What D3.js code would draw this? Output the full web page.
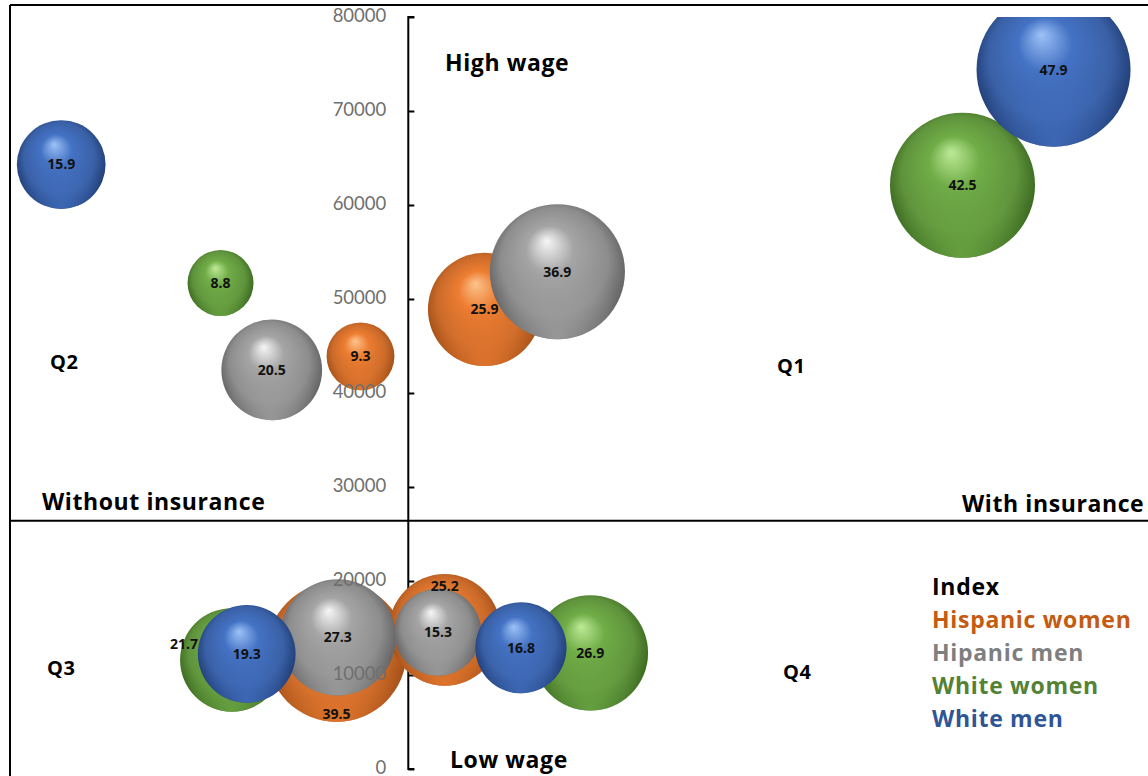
<!DOCTYPE html>
<html>
<head>
<meta charset="utf-8">
<script src="https://cdn.jsdelivr.net/npm/d3@7"></script>
<style>
  body { margin: 0; background: #fff; }
  svg { display: block; font-family: Lato, "Open Sans", sans-serif; }
  .bold { font-family: "Open Sans", Lato, sans-serif; font-weight: bold; }
</style>
</head>
<body>
<div id="chart"></div>
<script>
// series names (legend order = drawing order)
var seriesNames = ["Hispanic women", "Hipanic men", "White women", "White men"];

// x = insurance position (negative = without insurance), y = wage, size = bubble index
var hispWomenX = [-4.2, 6.7, -6.3, 3.2];
var hispWomenY = [43900, 48900, 12450, 14800];
var hispWomenSize = [9.3, 25.9, 39.5, 25.2];

var hispMenX = [-12.0, 13.1, -6.2, 2.6];
var hispMenY = [42450, 52900, 14000, 14550];
var hispMenSize = [20.5, 36.9, 27.3, 15.3];

var whiteWomenX = [-16.5, 48.7, -15.5, 16.0];
var whiteWomenY = [51700, 62100, 11600, 12350];
var whiteWomenSize = [8.8, 42.5, 21.7, 26.9];

var whiteMenX = [-30.5, 56.7, -14.2, 9.9];
var whiteMenY = [64300, 74400, 12250, 12900];
var whiteMenSize = [15.9, 47.9, 19.3, 16.8];

var yTicks = [0, 10000, 20000, 30000, 40000, 50000, 60000, 70000, 80000];
var wageSplit = 26400; // horizontal divider between high / low wage

var width = 1148;
var height = 776;

var colors = [
  { base: "#ed7d31", light: "#fcc48e", dark: "#9a4a14", text: "#c55a11" },
  { base: "#a5a5a5", light: "#f6f6f6", dark: "#5a5a5a", text: "#7f7f7f" },
  { base: "#70ad47", light: "#bdea97", dark: "#33601a", text: "#548235" },
  { base: "#4472c4", light: "#9cc2f7", dark: "#1c366c", text: "#2f5597" }
];

// labels moved off the centre where the bubble is hidden
var labelSide = { "39.5": "below", "25.2": "above", "21.7": "left" };

var xs = [hispWomenX, hispMenX, whiteWomenX, whiteMenX];
var ys = [hispWomenY, hispMenY, whiteWomenY, whiteMenY];
var sizes = [hispWomenSize, hispMenSize, whiteWomenSize, whiteMenSize];

var points = [];
seriesNames.forEach(function (name, i) {
  xs[i].forEach(function (x, j) {
    points.push({ series: i, x: x, y: ys[i][j], size: sizes[i][j] });
  });
});

var svg = d3.select("#chart").append("svg")
  .attr("width", width)
  .attr("height", height);

var defs = svg.append("defs");

// sphere-looking gradients
colors.forEach(function (c, i) {
  var g = defs.append("radialGradient")
    .attr("id", "ball" + i)
    .attr("cx", "50%").attr("cy", "48%").attr("r", "55%")
    .attr("fx", "42%").attr("fy", "27%");
  g.append("stop").attr("offset", "0%").attr("stop-color", c.light);
  g.append("stop").attr("offset", "32%").attr("stop-color", c.base);
  g.append("stop").attr("offset", "72%").attr("stop-color", d3.color(c.base).darker(0.45));
  g.append("stop").attr("offset", "100%").attr("stop-color", c.dark);

  var s = defs.append("radialGradient")
    .attr("id", "shine" + i)
    .attr("cx", "50%").attr("cy", "100%").attr("r", "55%");
  s.append("stop").attr("offset", "0%").attr("stop-color", c.base).attr("stop-opacity", 0.8);
  s.append("stop").attr("offset", "100%").attr("stop-color", c.base).attr("stop-opacity", 0);
});

defs.append("clipPath").attr("id", "plotClip")
  .append("rect")
  .attr("x", 10).attr("y", 17)
  .attr("width", width - 10).attr("height", height - 17);

var xScale = d3.scaleLinear().domain([-35, 65]).range([10, width]);
var yScale = d3.scaleLinear().domain([0, 80000]).range([769, 17]);
var rScale = d3.scaleSqrt().domain([0, 47.9]).range([0, 77]);

// frame
svg.append("line").attr("x1", 10).attr("x2", width).attr("y1", 5).attr("y2", 5)
  .attr("stroke", "#000").attr("stroke-width", 2);
svg.append("line").attr("x1", 10).attr("x2", 10).attr("y1", 5).attr("y2", height)
  .attr("stroke", "#000").attr("stroke-width", 2);

// y axis line + ticks (labels come later, above bubbles)
var yAxis = d3.axisRight(yScale).tickValues(yTicks).tickSize(6).tickFormat("");
var axisG = svg.append("g")
  .attr("transform", "translate(" + xScale(0) + ",0)")
  .call(yAxis);
axisG.select(".domain").attr("stroke", "#000").attr("stroke-width", 2)
  .attr("d", "M6," + yScale(80000) + "H0V" + yScale(0) + "H6");
axisG.selectAll(".tick line").attr("stroke", "#000").attr("stroke-width", 2);

// wage divider
svg.append("line")
  .attr("x1", 10).attr("x2", width)
  .attr("y1", yScale(wageSplit)).attr("y2", yScale(wageSplit))
  .attr("stroke", "#000").attr("stroke-width", 2);

// bubbles
var bubbles = svg.append("g").attr("clip-path", "url(#plotClip)");
bubbles.selectAll("g.bubble")
  .data(points)
  .enter()
  .append("g")
  .attr("class", "bubble")
  .each(function (d) {
    var g = d3.select(this);
    g.append("circle")
      .attr("cx", xScale(d.x))
      .attr("cy", yScale(d.y))
      .attr("r", rScale(d.size))
      .attr("fill", "url(#ball" + d.series + ")");
    g.append("circle")
      .attr("cx", xScale(d.x))
      .attr("cy", yScale(d.y))
      .attr("r", rScale(d.size))
      .attr("fill", "url(#shine" + d.series + ")");
  });

// y tick labels
svg.append("g").selectAll("text")
  .data(yTicks)
  .enter()
  .append("text")
  .attr("x", xScale(0) - 22)
  .attr("y", function (d) { return yScale(d); })
  .attr("dy", "0.28em")
  .attr("text-anchor", "end")
  .attr("font-size", 18.5)
  .attr("fill", "#6f6f6f")
  .text(function (d) { return d; });

// bubble labels
svg.append("g").selectAll("text")
  .data(points)
  .enter()
  .append("text")
  .attr("class", "bold")
  .attr("x", function (d) {
    var side = labelSide[d.size];
    if (side === "left") return xScale(d.x) - rScale(d.size) + 18;
    return xScale(d.x);
  })
  .attr("y", function (d) {
    var side = labelSide[d.size];
    var r = rScale(d.size);
    if (side === "below") return yScale(d.y) + r - 8;
    if (side === "above") return yScale(d.y) - r + 12;
    if (side === "left") return yScale(d.y) - 16;
    return yScale(d.y);
  })
  .attr("dy", "0.35em")
  .attr("text-anchor", function (d) { return labelSide[d.size] === "left" ? "end" : "middle"; })
  .attr("font-size", 14)
  .attr("fill", "#111")
  .text(function (d) { return d.size.toFixed(1); });

// quadrant annotations
var notes = [
  { t: "High wage", x: 445, y: 63, s: 23 },
  { t: "Low wage", x: 450, y: 760, s: 23 },
  { t: "Without insurance", x: 42, y: 502, s: 23 },
  { t: "With insurance", x: 962, y: 504, s: 23 },
  { t: "Q2", x: 50, y: 362, s: 20 },
  { t: "Q1", x: 777, y: 366, s: 20 },
  { t: "Q3", x: 47, y: 668, s: 20 },
  { t: "Q4", x: 783, y: 672, s: 20 }
];
svg.append("g").selectAll("text")
  .data(notes)
  .enter()
  .append("text")
  .attr("class", "bold")
  .attr("x", function (d) { return d.x; })
  .attr("y", function (d) { return d.y; })
  .attr("dy", "0.35em")
  .attr("font-size", function (d) { return d.s; })
  .attr("letter-spacing", 0.6)
  .attr("fill", "#000")
  .text(function (d) { return d.t; });

// legend
var legend = svg.append("g").attr("transform", "translate(932,587)");
legend.append("text")
  .attr("class", "bold")
  .attr("dy", "0.35em")
  .attr("font-size", 23).attr("letter-spacing", 0.7).attr("fill", "#000")
  .text("Index");
legend.selectAll("text.item")
  .data(seriesNames)
  .enter()
  .append("text")
  .attr("class", "item bold")
  .attr("y", function (d, i) { return 33 * (i + 1); })
  .attr("dy", "0.35em")
  .attr("font-size", 23)
  .attr("letter-spacing", 0.7)
  .attr("fill", function (d, i) { return colors[i].text; })
  .text(function (d) { return d; });
</script>
</body>
</html>
